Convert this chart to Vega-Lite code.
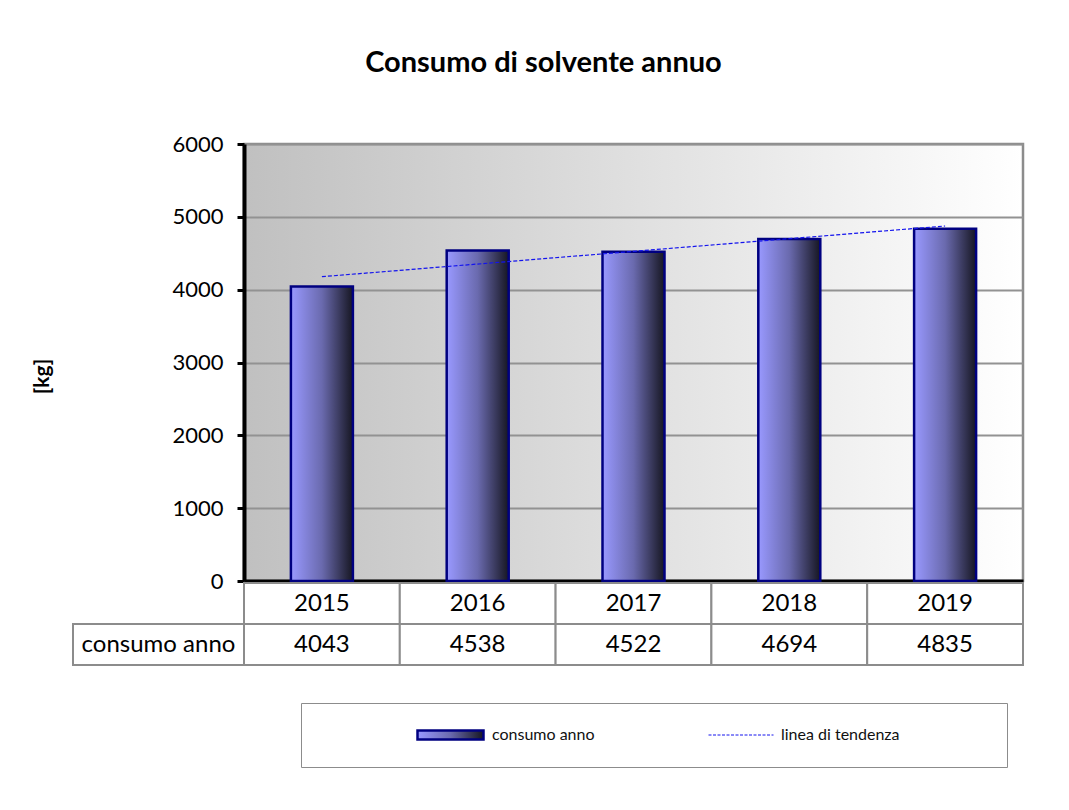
{
  "$schema": "https://vega.github.io/schema/vega-lite/v6.json",
  "background": "white",
  "padding": {"left": 30, "top": 48, "right": 10, "bottom": 10},
  "autosize": {"type": "pad"},
  "datasets": {
    "consumi": [
      {"anno": 2015, "consumo": 4043, "tendenza": 4178},
      {"anno": 2016, "consumo": 4538, "tendenza": 4352},
      {"anno": 2017, "consumo": 4522, "tendenza": 4526},
      {"anno": 2018, "consumo": 4694, "tendenza": 4700},
      {"anno": 2019, "consumo": 4835, "tendenza": 4874}
    ]
  },
  "title": {"text": "Consumo di solvente annuo", "font": "Lato", "fontSize": 29, "fontWeight": "bold", "color": "black", "anchor": "middle", "dx": 16, "offset": 54},
  "columns": 2,
  "spacing": {"row": 2, "column": 0},
  "bounds": "flush",
  "align": "each",
  "concat": [
    {
      "width": 171, "height": 437,
      "data": {"values": [{"vuoto": ""}]},
      "mark": {"type": "text"},
      "encoding": {"text": {"field": "vuoto", "type": "nominal"}},
      "view": {"stroke": null}
    },
    {
      "width": 779, "height": 437,
      "data": {"name": "consumi"},
      "view": {"stroke": "#8c8c8c", "strokeWidth": 2.5,
        "fill": {"gradient": "linear", "x1": 0, "y1": 0, "x2": 1, "y2": 0,
          "stops": [{"offset": 0, "color": "#c0c0c0"}, {"offset": 1, "color": "#ffffff"}]}},
      "resolve": {"scale": {"stroke": "independent"}},
      "encoding": {
        "x": {"field": "anno", "type": "ordinal",
          "scale": {"paddingInner": 0, "paddingOuter": 0},
          "axis": {"labels": false, "ticks": false, "title": null, "domainColor": "black", "domainWidth": 4, "grid": false}}
      },
      "layer": [
        {
          "mark": {"type": "bar", "size": 62, "strokeWidth": 2.5, "fillOpacity": 1,
            "fill": {"gradient": "linear", "x1": 0, "y1": 0, "x2": 1, "y2": 0,
              "stops": [{"offset": 0, "color": "#9999ff"}, {"offset": 0.5, "color": "#6a6aae"}, {"offset": 1, "color": "#161622"}]}},
          "encoding": {
            "y": {"field": "consumo", "type": "quantitative",
              "scale": {"domain": [0, 6000]},
              "axis": {"values": [0, 1000, 2000, 3000, 4000, 5000, 6000], "format": "d", "title": "[kg]",
                "titleFont": "Lato", "titleFontSize": 21, "titleFontWeight": "bold", "titleColor": "black",
                "titlePadding": 119, "titleY": 232,
                "grid": true, "gridColor": "#929292", "gridWidth": 2,
                "domainColor": "black", "domainWidth": 4,
                "tickColor": "black", "tickWidth": 3, "tickSize": 7,
                "labelFont": "Lato", "labelFontSize": 22, "labelColor": "black", "labelPadding": 14}},
            "stroke": {"datum": "consumo anno", "type": "nominal",
              "scale": {"domain": ["consumo anno"], "range": ["#000080"]},
              "legend": {"orient": "none", "legendX": 57, "legendY": 559, "direction": "horizontal",
                "title": "\u00a0", "titleOrient": "right", "titlePadding": 388, "titleFontSize": 11,
                "fillColor": "white", "strokeColor": "#8c8c8c", "padding": 24, "clipHeight": 16,
                "symbolType": "M-1,-0.14L1,-0.14L1,0.14L-1,0.14Z",
                "symbolSize": 4356, "symbolOffset": 91, "symbolStrokeWidth": 2.5, "labelOffset": 7,
                "labelFont": "Lato", "labelFontSize": 16, "labelColor": "#111111",
                "encode": {"legend": {"strokeWidth": {"value": 2}}}}}
          }
        },
        {
          "mark": {"type": "line", "strokeWidth": 1.2, "strokeDash": [4, 2]},
          "encoding": {
            "y": {"field": "tendenza", "type": "quantitative"},
            "stroke": {"datum": "linea di tendenza", "type": "nominal",
              "scale": {"domain": ["linea di tendenza"], "range": ["#1414ee"]},
              "legend": {"orient": "none", "legendX": 464, "legendY": 583, "direction": "horizontal",
                "title": null, "fillColor": null, "strokeColor": null, "padding": 0, "clipHeight": 16,
                "symbolType": "stroke", "symbolSize": 4225, "symbolDash": [3, 1.5], "symbolStrokeWidth": 1,
                "labelOffset": 7, "labelFont": "Lato", "labelFontSize": 16, "labelColor": "#111111"}}
          }
        }
      ]
    },
    {
      "width": 171, "height": 82,
      "data": {"values": [{"riga": "consumo", "etichetta": "consumo anno"}]},
      "view": {"stroke": null},
      "encoding": {
        "y": {"field": "riga", "type": "nominal", "axis": null,
          "scale": {"domain": ["anno", "consumo"], "paddingInner": 0, "paddingOuter": 0}}
      },
      "layer": [
        {"mark": {"type": "rect", "fill": "white", "stroke": "#8c8c8c", "strokeWidth": 2}},
        {"mark": {"type": "text", "font": "Lato", "fontSize": 24, "color": "black"},
          "encoding": {"text": {"field": "etichetta", "type": "nominal"}}}
      ]
    },
    {
      "width": 779, "height": 82,
      "data": {"name": "consumi"},
      "transform": [{"fold": ["anno", "consumo"], "as": ["riga", "cella"]}],
      "view": {"stroke": null},
      "encoding": {
        "x": {"field": "anno", "type": "ordinal", "axis": null, "scale": {"paddingInner": 0, "paddingOuter": 0}},
        "y": {"field": "riga", "type": "nominal", "axis": null,
          "scale": {"domain": ["anno", "consumo"], "paddingInner": 0, "paddingOuter": 0}}
      },
      "layer": [
        {"mark": {"type": "rect", "fill": "white", "stroke": "#8c8c8c", "strokeWidth": 2}},
        {"mark": {"type": "text", "font": "Lato", "fontSize": 24, "color": "black"},
          "encoding": {"text": {"field": "cella", "type": "nominal"}}}
      ]
    }
  ]
}
